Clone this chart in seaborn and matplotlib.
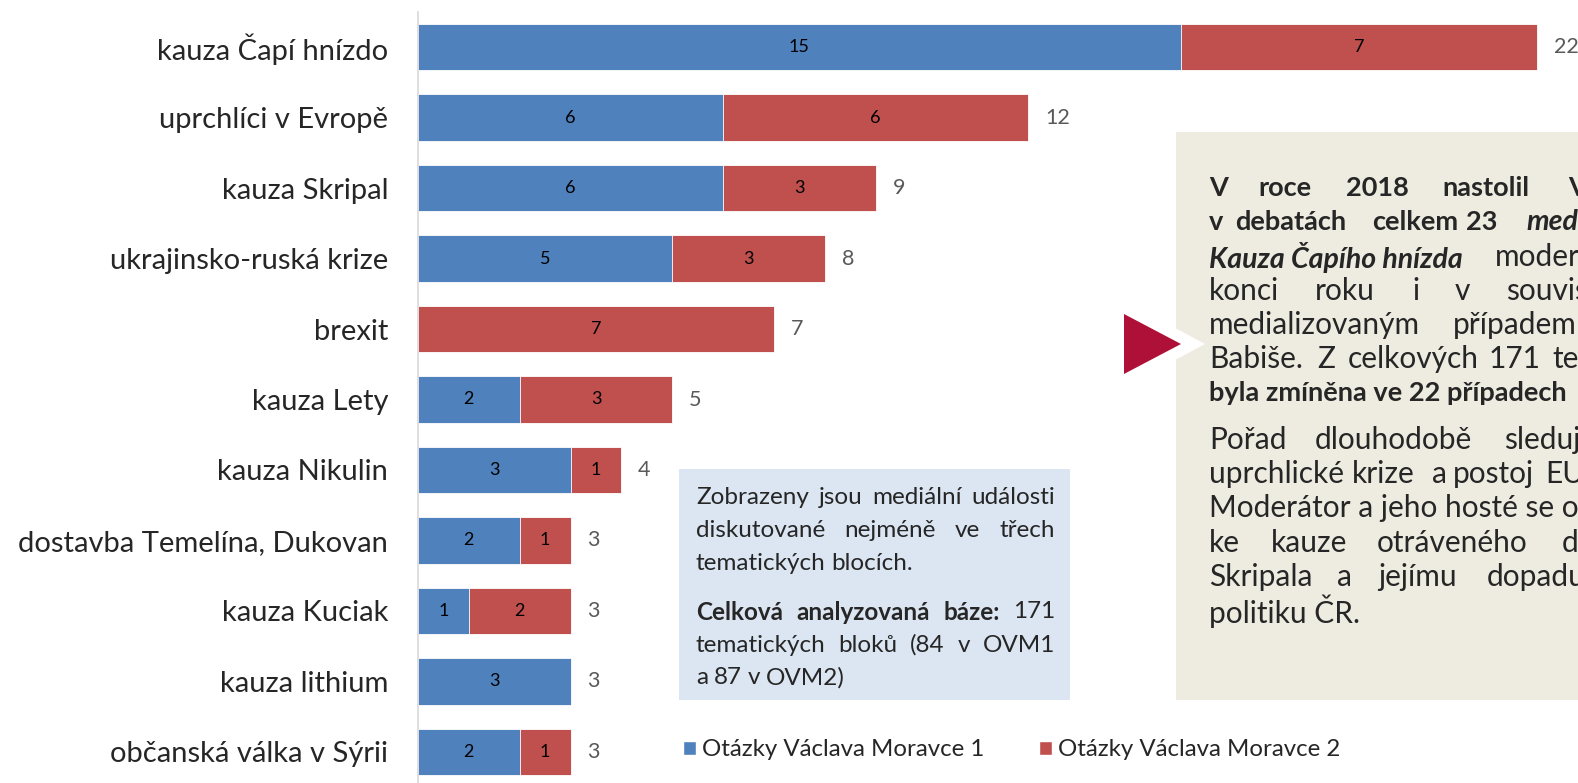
import numpy as np
import pandas as pd
import matplotlib
matplotlib.use('Agg')
import matplotlib.pyplot as plt
import seaborn as sns
from matplotlib.patches import Patch, Polygon, Rectangle

sns.set_style('white')
plt.rcParams['font.family'] = ['Lato', 'DejaVu Sans']

# data
topics = ['kauza Čapí hnízdo', 'uprchlíci v Evropě', 'kauza Skripal', 'ukrajinsko-ruská krize',
          'brexit', 'kauza Lety', 'kauza Nikulin', 'dostavba Temelína, Dukovan',
          'kauza Kuciak', 'kauza lithium', 'občanská válka v Sýrii']
ovm1 = [15, 6, 6, 5, 0, 2, 3, 2, 1, 3, 2]
ovm2 = [7, 6, 3, 3, 7, 3, 1, 1, 2, 0, 1]
series_names = ['Otázky Václava Moravce 1', 'Otázky Václava Moravce 2']

df = pd.DataFrame({'topic': topics, 'ovm1': ovm1, 'ovm2': ovm2})
df['total'] = df['ovm1'] + df['ovm2']

blue = '#4F81BD'
red = '#C0504D'

W, H = 1578, 783
fig = plt.figure(figsize=(W / 100, H / 100), dpi=100)


def px(x, y):
    # pixel position -> figure fraction
    return x / W, 1 - y / H


ax = fig.add_axes([418 / W, -4 / H, (W - 418) / W, 775 / H])

# stacked bars: total in red, first series over it in blue
sns.barplot(data=df, y='topic', x='total', color=red, saturation=1, width=0.66,
            edgecolor='white', linewidth=0.6, ax=ax)
sns.barplot(data=df, y='topic', x='ovm1', color=blue, saturation=1, width=0.66,
            edgecolor='white', linewidth=0.6, ax=ax)

ax.set_xlim(0, 1160 / 50.86)
ax.set_ylim(10.5, -0.5)
ax.set_xlabel('')
ax.set_ylabel('')
ax.set_xticks([])
for s in ['top', 'right', 'bottom']:
    ax.spines[s].set_visible(False)
ax.spines['left'].set_color('#D9D9D9')
ax.spines['left'].set_linewidth(1.2)
ax.set_yticks(np.arange(-0.5, len(topics), 1), minor=True)
ax.tick_params(axis='y', which='minor', length=7, color='#D9D9D9', width=1.2)
ax.tick_params(axis='y', which='major', length=0, pad=21.5, labelsize=21)

# segment and total labels
for i in range(len(topics)):
    if ovm1[i] > 0:
        ax.text(ovm1[i] / 2, i, str(ovm1[i]), ha='center', va='center', fontsize=13, color='black')
    if ovm2[i] > 0:
        ax.text(ovm1[i] + ovm2[i] / 2, i, str(ovm2[i]), ha='center', va='center', fontsize=13, color='black')
    ax.text(ovm1[i] + ovm2[i] + 0.33, i, str(ovm1[i] + ovm2[i]), ha='left', va='center',
            fontsize=15.5, color='#595959')

# legend
handles = [Patch(facecolor=blue), Patch(facecolor=red)]
fig.legend(handles, series_names, loc='center left', bbox_to_anchor=px(683, 750), ncol=2,
           frameon=False, fontsize=17.3, handlelength=0.55, handleheight=0.55, handletextpad=0.25,
           columnspacing=2.25, borderaxespad=0, borderpad=0)

# left note box
x0, y0 = px(679, 699.5)
x1, y1 = px(1070, 469)
fig.patches.append(Rectangle((x0, y0), x1 - x0, y1 - y0, transform=fig.transFigure,
                             facecolor='#DCE6F2', edgecolor='none', zorder=0))

renderer = fig.canvas.get_renderer()


def justify(parts, xl, xr, y, justified=True, size=17.5):
    # parts: list of (word, weight); spreads the words between xl and xr
    texts = []
    for w, wt in parts:
        t = fig.text(*px(xl, y), w, fontsize=size, fontweight=wt, va='center', ha='left')
        texts.append(t)
    widths = [t.get_window_extent(renderer).width for t in texts]
    gap = size * 100 / 72 * 0.24
    if justified and len(texts) > 1:
        gap = max(gap * 0.6, (xr - xl - sum(widths)) / (len(texts) - 1))
    xpos = xl
    for t, wd in zip(texts, widths):
        t.set_position(px(xpos, y))
        xpos += wd + gap


n = 'normal'
b = 'bold'
justify([(w, n) for w in 'Zobrazeny jsou mediální události'.split()], 696, 1055, 497)
justify([(w, n) for w in 'diskutované nejméně ve třech'.split()], 696, 1055, 530.5)
justify([(w, n) for w in 'tematických blocích.'.split()], 696, 1055, 563, justified=False)
justify([('Celková', b), ('analyzovaná', b), ('báze:', b), ('171', n)], 696, 1055, 612)
justify([(w, n) for w in 'tematických bloků (84 v OVM1'.split()], 696, 1055, 645)
justify([(w, n) for w in 'a 87 v OVM2)'.split()], 696, 1055, 677.5, justified=False)

# right commentary box with arrow
x0, y0 = px(1175.5, 699.5)
x1, y1 = px(1600, 132)
fig.patches.append(Rectangle((x0, y0), x1 - x0, y1 - y0, transform=fig.transFigure,
                             facecolor='#EEECE1', edgecolor='none', zorder=0))
fig.patches.append(Polygon([px(1149, 314), px(1149, 374), px(1205, 344)], closed=True,
                           transform=fig.transFigure, facecolor='white', edgecolor='none', zorder=1))
fig.patches.append(Polygon([px(1124, 314), px(1124, 374), px(1181, 344)], closed=True,
                           transform=fig.transFigure, facecolor='#AE1037', edgecolor='none', zorder=2))

lines = [
    (188, [('V', 1209, b, n), ('roce', 1258, b, n), ('2018', 1346, b, n), ('nastolil', 1442, b, n), ('V', 1568, b, n)]),
    (222.5, [('v', 1209, b, n), ('debatách', 1235, b, n), ('celkem', 1372, b, n), ('23', 1466, b, n), ('med', 1526, b, 'italic')]),
    (257.5, [('Kauza Čapího hnízda', 1209, b, 'italic'), ('moder', 1495, n, n)]),
    (291, [('konci', 1209, n, n), ('roku', 1315, n, n), ('i', 1412, n, n), ('v', 1455, n, n), ('souvis', 1506, n, n)]),
    (325, [('medializovaným', 1209, n, n), ('případem', 1453, n, n)]),
    (359, [('Babiše.', 1209, n, n), ('Z', 1317, n, n), ('celkových', 1348, n, n), ('171', 1489, n, n), ('te', 1552, n, n)]),
    (392.5, [('byla zmíněna ve 22 případech', 1209, b, n)]),
    (440, [('Pořad', 1209, n, n), ('dlouhodobě', 1315, n, n), ('sleduj', 1504, n, n)]),
    (474, [('uprchlické', 1209, n, n), ('krize', 1352, n, n), ('a', 1432, n, n), ('postoj', 1453, n, n), ('EU', 1545, n, n)]),
    (508, [('Moderátor a jeho hosté se o', 1209, n, n)]),
    (542.5, [('ke', 1209, n, n), ('kauze', 1271, n, n), ('otráveného', 1377, n, n), ('dv', 1562, n, n)]),
    (577, [('Skripala', 1209, n, n), ('a', 1337, n, n), ('jejímu', 1378, n, n), ('dopadu', 1487, n, n)]),
    (611, [('politiku ČR.', 1209, n, n)]),
]
for y, words in lines:
    for w, x, wt, st in words:
        if wt == b:
            size = 20.5 if st == 'italic' else 19.5
        else:
            size = 21.5
        fig.text(*px(x, y), w, fontsize=size, fontweight=wt, fontstyle=st, va='center', ha='left')

fig.savefig('out.png', dpi=100)
